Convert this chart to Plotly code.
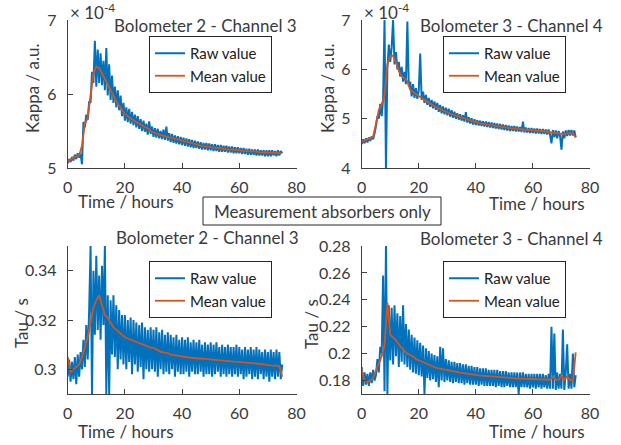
import numpy as np
import plotly.graph_objects as go

# ---------------- data ----------------
raw_hours = np.arange(0, 75.5, 0.5)
mean_hours = np.arange(0, 76, 1.0)

# Bolometer 2 - Channel 3, Kappa (x1e-4)
kappa_b2_raw = [
    5.06, 5.12, 5.08, 5.15, 5.10, 5.18, 5.12, 5.20, 5.14, 5.19,
    5.05, 5.62, 5.55, 5.72, 5.65, 5.90, 5.88, 6.30, 6.15, 6.72,
    6.10, 6.60, 6.15, 6.55, 6.12, 6.45, 6.05, 6.62, 5.98, 6.40,
    5.92, 6.25, 5.88, 6.10, 5.82, 6.05, 5.78, 5.98, 5.70, 5.88,
    5.64, 5.82, 5.62, 5.80, 5.60, 5.76, 5.58, 5.72, 5.55, 5.70,
    5.53, 5.66, 5.50, 5.64, 5.49, 5.60, 5.45, 5.63, 5.46, 5.56,
    5.42, 5.54, 5.41, 5.53, 5.40, 5.50, 5.39, 5.52, 5.38, 5.56,
    5.37, 5.47, 5.35, 5.46, 5.34, 5.44, 5.33, 5.43, 5.32, 5.42,
    5.31, 5.41, 5.30, 5.40, 5.29, 5.39, 5.28, 5.38, 5.27, 5.37,
    5.27, 5.36, 5.26, 5.35, 5.25, 5.34, 5.25, 5.34, 5.24, 5.33,
    5.24, 5.32, 5.23, 5.32, 5.23, 5.31, 5.22, 5.31, 5.22, 5.30,
    5.22, 5.30, 5.21, 5.29, 5.21, 5.29, 5.20, 5.28, 5.20, 5.28,
    5.20, 5.27, 5.19, 5.27, 5.19, 5.26, 5.18, 5.26, 5.18, 5.25,
    5.18, 5.25, 5.17, 5.25, 5.17, 5.24, 5.17, 5.24, 5.16, 5.24,
    5.16, 5.24, 5.16, 5.24, 5.17, 5.23, 5.16, 5.24, 5.17, 5.23,
    5.20,
]
kappa_b2_mean = [
    5.08, 5.12, 5.14, 5.15, 5.17, 5.30, 5.60, 5.68, 5.95, 6.28,
    6.37, 6.35, 6.28, 6.20, 6.12, 6.04, 5.97, 5.90, 5.84, 5.78,
    5.73, 5.70, 5.67, 5.65, 5.62, 5.60, 5.57, 5.55, 5.54, 5.50,
    5.48, 5.46, 5.45, 5.44, 5.43, 5.42, 5.40, 5.39, 5.38, 5.37,
    5.36, 5.35, 5.34, 5.33, 5.32, 5.32, 5.31, 5.30, 5.29, 5.29,
    5.28, 5.28, 5.27, 5.27, 5.26, 5.26, 5.25, 5.25, 5.25, 5.24,
    5.24, 5.23, 5.23, 5.23, 5.22, 5.22, 5.22, 5.21, 5.21, 5.21,
    5.20, 5.20, 5.20, 5.20, 5.20, 5.20,
]

# Bolometer 3 - Channel 4, Kappa (x1e-4)
kappa_b3_raw = [
    4.48, 4.58, 4.50, 4.60, 4.52, 4.62, 4.55, 4.64, 4.58, 4.70,
    4.85, 5.05, 5.00, 5.30, 5.05, 5.40, 7.00, 4.00, 6.00, 6.50,
    6.15, 6.45, 7.00, 6.10, 6.35, 6.00, 6.15, 5.85, 6.05, 5.75,
    5.95, 5.70, 6.97, 5.65, 5.75, 5.45, 5.70, 5.42, 5.62, 5.40,
    5.58, 6.32, 5.38, 5.55, 5.32, 5.48, 5.28, 5.42, 5.24, 5.38,
    5.21, 5.35, 5.18, 5.32, 5.14, 5.28, 5.11, 5.25, 5.09, 5.22,
    5.07, 5.20, 5.04, 5.17, 5.02, 5.14, 5.00, 5.11, 4.98, 5.09,
    4.96, 5.07, 4.94, 5.13, 4.92, 5.03, 4.90, 5.01, 4.88, 4.99,
    4.87, 4.97, 4.86, 4.96, 4.85, 4.95, 4.84, 4.94, 4.83, 4.93,
    4.82, 4.92, 4.81, 4.91, 4.80, 4.90, 4.79, 4.89, 4.78, 4.88,
    4.77, 4.87, 4.76, 4.86, 4.75, 4.85, 4.75, 4.85, 4.74, 4.84,
    4.74, 4.83, 4.73, 4.94, 4.72, 4.82, 4.72, 4.81, 4.71, 4.81,
    4.71, 4.80, 4.70, 4.80, 4.70, 4.79, 4.69, 4.79, 4.69, 4.78,
    4.68, 4.78, 4.67, 4.50, 4.77, 4.62, 4.76, 4.60, 4.75, 4.65,
    4.37, 4.74, 4.60, 4.76, 4.65, 4.77, 4.66, 4.77, 4.66, 4.76,
    4.62,
]
kappa_b3_mean = [
    4.53, 4.56, 4.58, 4.60, 4.64, 4.90, 5.18, 5.28, 5.48, 6.10,
    6.27, 6.28, 6.15, 5.97, 5.86, 5.82, 5.76, 5.58, 5.53, 5.50,
    5.46, 5.42, 5.38, 5.34, 5.30, 5.27, 5.24, 5.21, 5.18, 5.15,
    5.13, 5.10, 5.08, 5.06, 5.04, 5.02, 5.00, 4.98, 4.96, 4.94,
    4.92, 4.91, 4.90, 4.89, 4.88, 4.87, 4.86, 4.85, 4.84, 4.83,
    4.82, 4.82, 4.81, 4.80, 4.80, 4.79, 4.78, 4.78, 4.77, 4.77,
    4.76, 4.76, 4.75, 4.75, 4.74, 4.74, 4.73, 4.72, 4.71, 4.70,
    4.69, 4.68, 4.70, 4.71, 4.71, 4.62,
]

# Bolometer 2 - Channel 3, Tau (s)
tau_b2_raw = [
    0.297, 0.304, 0.295, 0.303, 0.296, 0.305, 0.294, 0.306, 0.297, 0.307,
    0.300, 0.312, 0.301, 0.318, 0.304, 0.324, 0.350, 0.290, 0.340, 0.314,
    0.346, 0.316, 0.338, 0.312, 0.342, 0.318, 0.350, 0.290, 0.330, 0.290,
    0.328, 0.306, 0.330, 0.305, 0.326, 0.300, 0.324, 0.304, 0.322, 0.302,
    0.322, 0.300, 0.320, 0.303, 0.321, 0.298, 0.320, 0.302, 0.319, 0.299,
    0.318, 0.301, 0.319, 0.296, 0.317, 0.300, 0.316, 0.299, 0.317, 0.300,
    0.316, 0.299, 0.317, 0.297, 0.315, 0.300, 0.316, 0.298, 0.314, 0.299,
    0.315, 0.298, 0.314, 0.300, 0.313, 0.297, 0.314, 0.299, 0.312, 0.298,
    0.313, 0.298, 0.312, 0.299, 0.313, 0.297, 0.311, 0.299, 0.312, 0.298,
    0.311, 0.298, 0.312, 0.299, 0.310, 0.297, 0.311, 0.298, 0.310, 0.298,
    0.311, 0.297, 0.310, 0.298, 0.311, 0.299, 0.309, 0.297, 0.310, 0.298,
    0.309, 0.297, 0.310, 0.298, 0.309, 0.297, 0.309, 0.298, 0.310, 0.297,
    0.309, 0.298, 0.308, 0.296, 0.309, 0.297, 0.308, 0.298, 0.309, 0.296,
    0.308, 0.297, 0.309, 0.296, 0.308, 0.298, 0.307, 0.296, 0.308, 0.297,
    0.307, 0.295, 0.308, 0.297, 0.307, 0.296, 0.308, 0.297, 0.307, 0.296,
    0.302,
]
tau_b2_mean = [
    0.305, 0.299, 0.300, 0.301, 0.302, 0.305, 0.309, 0.313, 0.319, 0.325,
    0.328, 0.330, 0.326, 0.322, 0.321, 0.319, 0.317, 0.316, 0.315, 0.314,
    0.313, 0.3125, 0.312, 0.3115, 0.311, 0.3107, 0.310, 0.3095, 0.309, 0.3088,
    0.3087, 0.308, 0.3075, 0.307, 0.3068, 0.3066, 0.306, 0.3058, 0.3055, 0.3053,
    0.3052, 0.305, 0.3048, 0.3047, 0.3046, 0.3046, 0.3045, 0.3043, 0.3042, 0.3041,
    0.304, 0.3038, 0.3036, 0.3034, 0.3033, 0.3032, 0.3031, 0.303, 0.303, 0.303,
    0.303, 0.3028, 0.3027, 0.3026, 0.3025, 0.3025, 0.3023, 0.3022, 0.302, 0.3019,
    0.3018, 0.3016, 0.3015, 0.3014, 0.3013, 0.297,
]

# Bolometer 3 - Channel 4, Tau (s)
tau_b3_raw = [
    0.190, 0.176, 0.186, 0.177, 0.185, 0.176, 0.186, 0.178, 0.188, 0.180,
    0.184, 0.196, 0.186, 0.205, 0.200, 0.258, 0.172, 0.280, 0.170, 0.236,
    0.195, 0.234, 0.192, 0.236, 0.198, 0.230, 0.190, 0.228, 0.194, 0.236,
    0.192, 0.222, 0.190, 0.218, 0.188, 0.214, 0.186, 0.212, 0.185, 0.210,
    0.184, 0.208, 0.183, 0.206, 0.170, 0.204, 0.182, 0.202, 0.180, 0.200,
    0.181, 0.199, 0.179, 0.198, 0.175, 0.205, 0.180, 0.204, 0.179, 0.196,
    0.180, 0.195, 0.179, 0.194, 0.178, 0.194, 0.179, 0.193, 0.178, 0.193,
    0.178, 0.192, 0.177, 0.192, 0.178, 0.191, 0.177, 0.191, 0.177, 0.190,
    0.177, 0.190, 0.176, 0.189, 0.177, 0.189, 0.176, 0.189, 0.176, 0.188,
    0.176, 0.188, 0.176, 0.188, 0.175, 0.188, 0.176, 0.187, 0.175, 0.187,
    0.175, 0.187, 0.176, 0.186, 0.175, 0.186, 0.175, 0.186, 0.175, 0.186,
    0.170, 0.186, 0.175, 0.186, 0.175, 0.185, 0.175, 0.185, 0.174, 0.185,
    0.175, 0.185, 0.174, 0.185, 0.175, 0.185, 0.174, 0.185, 0.175, 0.184,
    0.174, 0.185, 0.174, 0.220, 0.174, 0.215, 0.173, 0.186, 0.174, 0.185,
    0.174, 0.218, 0.173, 0.186, 0.207, 0.174, 0.185, 0.174, 0.200, 0.175,
    0.184,
]
tau_b3_mean = [
    0.188, 0.180, 0.179, 0.180, 0.182, 0.187, 0.193, 0.198, 0.206, 0.238,
    0.214, 0.212, 0.210, 0.207, 0.204, 0.202, 0.200, 0.199, 0.198, 0.196,
    0.195, 0.194, 0.193, 0.192, 0.191, 0.190, 0.1895, 0.189, 0.1885, 0.188,
    0.1875, 0.187, 0.1866, 0.1862, 0.186, 0.1857, 0.1853, 0.185, 0.1847, 0.1843,
    0.184, 0.1838, 0.1836, 0.1834, 0.1832, 0.183, 0.1828, 0.1826, 0.1824, 0.1822,
    0.182, 0.1819, 0.1818, 0.1817, 0.1816, 0.1815, 0.1814, 0.1813, 0.1812, 0.1811,
    0.181, 0.1809, 0.1808, 0.1808, 0.1807, 0.1807, 0.1806, 0.1830, 0.1806, 0.1805,
    0.1840, 0.1805, 0.1830, 0.1805, 0.1800, 0.201,
]

titles = ["Bolometer 2 - Channel 3", "Bolometer 3 - Channel 4",
          "Bolometer 2 - Channel 3", "Bolometer 3 - Channel 4"]
x_ticks = [0, 20, 40, 60, 80]
kappa_b2_ticks = [5, 6, 7]
kappa_b3_ticks = [4, 5, 6, 7]
tau_b2_ticks = [0.30, 0.32, 0.34]
tau_b2_ticktext = ["0.3", "0.32", "0.34"]
tau_b3_ticks = [0.18, 0.20, 0.22, 0.24, 0.26, 0.28]
tau_b3_ticktext = ["0.18", "0.2", "0.22", "0.24", "0.26", "0.28"]

# ---------------- style ----------------
W, H = 621, 445
BLUE = "#0072BD"
ORANGE = "#D95319"
TXT = "#3a3a3a"
AX = "#404040"
FONT = "Lato"
FS = 16

def px(x):
    return x / W

def py(y):
    return 1 - y / H

fig = go.Figure()

panels = [
    dict(raw=kappa_b2_raw, mean=kappa_b2_mean, xa="x", ya="y", leg="legend"),
    dict(raw=kappa_b3_raw, mean=kappa_b3_mean, xa="x2", ya="y2", leg="legend2"),
    dict(raw=tau_b2_raw, mean=tau_b2_mean, xa="x3", ya="y3", leg="legend3"),
    dict(raw=tau_b3_raw, mean=tau_b3_mean, xa="x4", ya="y4", leg="legend4"),
]
for p in panels:
    fig.add_trace(go.Scatter(x=raw_hours, y=p["raw"], mode="lines", name="Raw value",
                             line=dict(color=BLUE, width=2.0, simplify=False),
                             xaxis=p["xa"], yaxis=p["ya"], legend=p["leg"]))
    fig.add_trace(go.Scatter(x=mean_hours, y=p["mean"], mode="lines", name="Mean value",
                             line=dict(color=ORANGE, width=1.8), xaxis=p["xa"], yaxis=p["ya"],
                             legend=p["leg"]))

def xax(domain, anchor):
    return dict(domain=domain, anchor=anchor, range=[0, 80], tickvals=x_ticks,
                showline=True, linecolor=AX, linewidth=1, ticks="inside", ticklen=5,
                tickcolor=AX, showgrid=False, zeroline=False, automargin=False,
                tickfont=dict(family=FONT, size=FS, color=TXT), ticklabelstandoff=5)

def yax(domain, anchor, rng, tv, tt=None):
    d = dict(domain=domain, anchor=anchor, range=rng, tickvals=tv,
             showline=True, linecolor=AX, linewidth=1, ticks="inside", ticklen=5,
             tickcolor=AX, showgrid=False, zeroline=False, automargin=False,
             tickfont=dict(family=FONT, size=FS, color=TXT), ticklabelstandoff=7)
    if tt is not None:
        d["ticktext"] = tt
    return d

xl = [px(67.7), px(296.5)]
xr = [px(361.7), px(590)]
yt = [py(168), py(20)]
yb = [py(394), py(246)]

leg_common = dict(bordercolor="#262626", borderwidth=1, bgcolor="white",
                  font=dict(family=FONT, size=15, color="#202020"),
                  xanchor="left", yanchor="top", tracegroupgap=0, itemwidth=30)

fig.update_layout(
    width=W, height=H,
    margin=dict(l=0, r=0, t=0, b=0, autoexpand=False),
    paper_bgcolor="white", plot_bgcolor="white",
    xaxis=xax(xl, "y"), yaxis=yax(yt, "x", [5, 7], kappa_b2_ticks),
    xaxis2=xax(xr, "y2"), yaxis2=yax(yt, "x2", [4, 7], kappa_b3_ticks),
    xaxis3=xax(xl, "y3"), yaxis3=yax(yb, "x3", [0.29, 0.35], tau_b2_ticks, tau_b2_ticktext),
    xaxis4=xax(xr, "y4"), yaxis4=yax(yb, "x4", [0.17, 0.28], tau_b3_ticks, tau_b3_ticktext),
    legend=dict(x=px(149), y=py(36), **leg_common),
    legend2=dict(x=px(443), y=py(36), **leg_common),
    legend3=dict(x=px(149), y=py(261), **leg_common),
    legend4=dict(x=px(443), y=py(261), **leg_common),
    showlegend=True,
)

def ann(text, x, y, angle=0, size=FS, **kw):
    fig.add_annotation(text=text, x=px(x), y=py(y), xref="paper", yref="paper",
                       showarrow=False, textangle=angle,
                       font=dict(family=FONT, size=size, color=TXT),
                       xanchor="center", yanchor="middle", **kw)

# titles
ann(titles[0], 206, 25, size=17)
ann(titles[1], 511, 25, size=17)
ann(titles[2], 207, 237, size=17)
ann(titles[3], 511, 238, size=17)
# x labels
ann("Time / hours", 126, 202, size=17)
ann("Time / hours", 537, 204, size=17)
ann("Time / hours", 126, 431, size=17)
ann("Time / hours", 537, 431, size=17)
# y labels
ann("Kappa / a.u.", 33, 88, angle=-90, size=17)
ann("Kappa / a.u.", 328, 88, angle=-90, size=17)
ann("Tau / s", 21, 323, angle=-90, size=17)
ann("Tau / s", 311, 324, angle=-90, size=17)
# exponent
ann("× 10<sup>-4</sup>", 92, 11, size=17)
ann("× 10<sup>-4</sup>", 386, 11, size=17)
# middle box
fig.add_shape(type="rect", xref="paper", yref="paper",
              x0=px(203), x1=px(441), y0=py(225), y1=py(197),
              line=dict(color="#262626", width=1), fillcolor="white", layer="above")
ann("Measurement absorbers only", 322, 211, size=17)

fig.write_html("out.html", config={"displayModeBar": False},
               post_script="document.body.style.margin='0px';document.body.style.overflow='hidden';")
